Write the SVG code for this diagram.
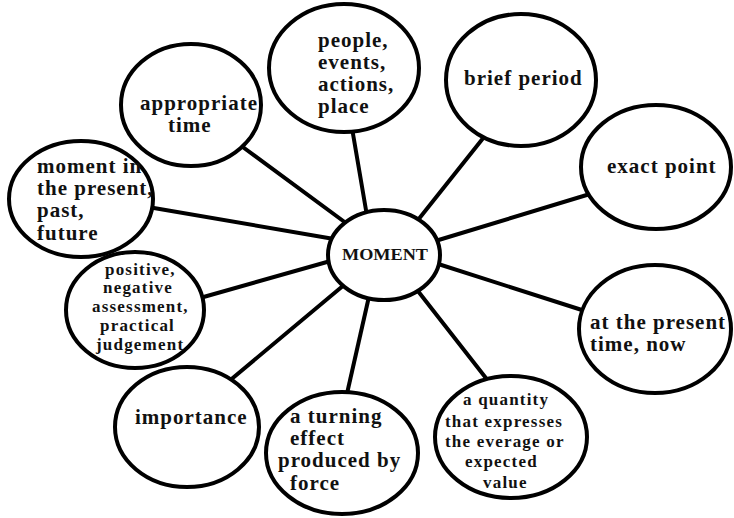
<svg xmlns="http://www.w3.org/2000/svg" width="734" height="518" viewBox="0 0 734 518">
<style>
.n{fill:#fff;stroke:#000;stroke-width:4}
.c line{stroke:#000;stroke-width:4;stroke-linecap:round}
text{font-family:'Liberation Serif',serif;font-weight:bold;fill:#111;font-size:21px;letter-spacing:1px}
.s{font-size:17px;letter-spacing:1.2px}
</style>
<rect width="734" height="518" fill="#fff"/>
<g class="c" id="connectors">
<line x1="240" y1="145" x2="350" y2="226"/>
<line x1="148" y1="207" x2="334" y2="239"/>
<line x1="352" y1="128" x2="367" y2="216"/>
<line x1="488" y1="132" x2="414" y2="225"/>
<line x1="590" y1="194" x2="432" y2="242"/>
<line x1="200" y1="298" x2="334" y2="260"/>
<line x1="228" y1="382" x2="344" y2="285"/>
<line x1="346" y1="398" x2="370" y2="292"/>
<line x1="489" y1="382" x2="414" y2="286"/>
<line x1="585" y1="311" x2="432" y2="262"/>
</g>
<g font-family="Liberation Serif, serif" font-weight="bold">
<g id="center"><ellipse class="n" cx="384" cy="255" rx="56" ry="45"/><text x="342" y="260" style="font-size:17px;letter-spacing:0" textLength="86" lengthAdjust="spacingAndGlyphs">MOMENT</text></g>
<g id="appropriate"><ellipse class="n" cx="191" cy="105" rx="70" ry="61"/><text x="140" y="110">appropriate</text><text x="168" y="132">time</text></g>
<g id="people"><ellipse class="n" cx="344" cy="68" rx="75" ry="64"/><text x="318" y="47">people,</text><text x="318" y="69">events,</text><text x="318" y="91">actions,</text><text x="318" y="113">place</text></g>
<g id="brief"><ellipse class="n" cx="521" cy="80" rx="75" ry="66"/><text x="464" y="85">brief period</text></g>
<g id="exact"><ellipse class="n" cx="656" cy="167" rx="75" ry="62"/><text x="607" y="173">exact point</text></g>
<g id="present"><ellipse class="n" cx="81" cy="199" rx="72" ry="58"/><text x="37" y="173">moment in</text><text x="37" y="195">the present,</text><text x="37" y="217">past,</text><text x="37" y="240">future</text></g>
<g id="positive"><ellipse class="n" cx="135" cy="310" rx="69" ry="58"/><text class="s" x="105" y="275">positive,</text><text class="s" x="103" y="293">negative</text><text class="s" x="92" y="312">assessment,</text><text class="s" x="100" y="331">practical</text><text class="s" x="96" y="350">judgement</text></g>
<g id="importance"><ellipse class="n" cx="187" cy="427" rx="72" ry="60"/><text x="135" y="424">importance</text></g>
<g id="turning"><ellipse class="n" cx="342" cy="453" rx="76" ry="61"/><text x="290" y="423">a turning</text><text x="290" y="445">effect</text><text x="278" y="467">produced by</text><text x="290" y="490">force</text></g>
<g id="quantity"><ellipse class="n" cx="511" cy="437" rx="76" ry="61"/><text class="s" x="463" y="405">a quantity</text><text class="s" x="445" y="427">that expresses</text><text class="s" x="445" y="447">the everage or</text><text class="s" x="465" y="467">expected</text><text class="s" x="483" y="488">value</text></g>
<g id="atpresent"><ellipse class="n" cx="655" cy="329" rx="76" ry="64"/><text x="590" y="329">at the present</text><text x="590" y="351">time, now</text></g>
</g>
</svg>
